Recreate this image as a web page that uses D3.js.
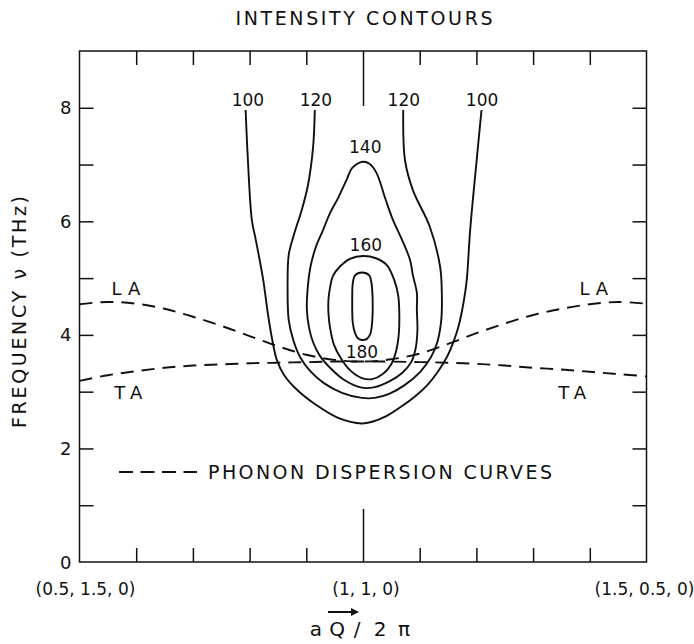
<!DOCTYPE html>
<html>
<head>
<meta charset="utf-8">
<script src="https://cdn.jsdelivr.net/npm/d3@7"></script>
<style>
  body { margin: 0; background: #fff; }
  svg text { font-family: "DejaVu Sans", "Liberation Sans", sans-serif; fill: #111; }
</style>
</head>
<body>
<svg id="chart" width="694" height="644"></svg>
<script>
// ---- axis definitions -------------------------------------------------
// wave vector runs (h, 2-h, 0) from h = 0.5 to h = 1.5
const qTicks = [0.5, 0.6, 0.7, 0.8, 0.9, 1.0, 1.1, 1.2, 1.3, 1.4, 1.5];
const qTickLabels = ["(0.5, 1.5, 0)", "(1, 1, 0)", "(1.5, 0.5, 0)"];
const qLabelAt = [0.5, 1.0, 1.5];
const nuTicks = [1, 2, 3, 4, 5, 6, 7, 8];
const nuTickLabels = [0, 2, 4, 6, 8];

// ---- phonon dispersion curves (THz) -----------------------------------
const dispQ  = [0.50, 0.55, 0.60, 0.65, 0.70, 0.75, 0.80, 0.85, 0.90, 0.95, 1.00,
                1.05, 1.10, 1.15, 1.20, 1.25, 1.30, 1.35, 1.40, 1.45, 1.50];
const laFreq = [4.54, 4.58, 4.55, 4.46, 4.32, 4.16, 3.98, 3.80, 3.65, 3.56, 3.53,
                3.57, 3.67, 3.84, 4.03, 4.20, 4.35, 4.46, 4.54, 4.58, 4.55];
const taFreq = [3.19, 3.29, 3.36, 3.42, 3.46, 3.48, 3.50, 3.51, 3.52, 3.53, 3.53,
                3.53, 3.52, 3.51, 3.49, 3.46, 3.42, 3.39, 3.35, 3.31, 3.27];

// ---- intensity contours: [h, frequency] ------------------------------
const contour100 = [[0.793,7.96],[0.797,7.08],[0.804,6.02],[0.811,5.67],[0.824,4.97],[0.832,4.39],
  [0.840,3.91],[0.848,3.56],[0.861,3.29],[0.884,3.03],[0.917,2.77],[0.956,2.54],[0.998,2.44],
  [1.016,2.47],[1.041,2.57],[1.065,2.72],[1.090,2.90],[1.113,3.11],[1.132,3.35],[1.148,3.61],
  [1.160,3.89],[1.169,4.17],[1.178,4.61],[1.183,4.97],[1.189,5.85],[1.200,7.03],[1.209,7.96]];
const contour120 = [[0.915,7.96],[0.912,7.31],[0.903,6.64],[0.892,6.20],[0.878,5.76],[0.869,5.41],
  [0.867,4.88],[0.869,4.26],[0.877,3.91],[0.889,3.61],[0.907,3.36],[0.931,3.15],[0.963,2.98],
  [0.998,2.89],[1.021,2.89],[1.046,2.96],[1.074,3.12],[1.101,3.35],[1.120,3.61],[1.131,3.87],
  [1.138,4.26],[1.139,4.74],[1.136,5.20],[1.118,5.90],[1.088,6.55],[1.074,7.08],[1.071,7.96]];
const contour140 = [[1.000,7.05],[0.981,6.94],[0.971,6.73],[0.956,6.41],[0.942,6.15],[0.928,5.81],
  [0.918,5.58],[0.908,5.23],[0.903,4.88],[0.901,4.44],[0.905,4.12],[0.912,3.87],[0.924,3.63],
  [0.942,3.42],[0.965,3.22],[0.998,3.07],[1.021,3.08],[1.048,3.19],[1.069,3.33],[1.085,3.52],
  [1.093,3.77],[1.096,4.09],[1.095,4.44],[1.095,4.74],[1.088,5.05],[1.083,5.32],[1.069,5.67],
  [1.053,6.02],[1.039,6.41],[1.024,6.85],[1.012,7.01]];
const contour160 = [[1.000,5.39],[0.977,5.34],[0.959,5.20],[0.947,5.04],[0.942,4.84],[0.939,4.61],
  [0.939,4.39],[0.942,4.12],[0.949,3.82],[0.961,3.59],[0.977,3.38],[0.998,3.24],[1.016,3.22],
  [1.035,3.31],[1.049,3.47],[1.058,3.70],[1.063,4.00],[1.064,4.39],[1.062,4.70],[1.055,4.97],
  [1.042,5.23],[1.023,5.35]];
const contour180 = [[0.998,5.10],[0.986,5.05],[0.982,4.91],[0.981,4.61],[0.982,4.21],[0.986,4.03],
  [0.991,3.94],[0.998,3.91],[1.007,3.93],[1.013,4.02],[1.016,4.21],[1.017,4.61],[1.015,4.91],
  [1.011,5.05]];

// contour level labels: [text, h, frequency]
const levelLabels = [["100",0.797,8.14],["120",0.917,8.14],["120",1.072,8.14],["100",1.210,8.14],
                     ["140",1.004,7.31],["160",1.005,5.58],["180",0.998,3.70]];
// branch labels: [text, h, frequency]
const branchLabels = [["LA",0.582,4.81],["LA",1.407,4.81],["TA",0.586,2.98],["TA",1.369,2.98]];

// ---- drawing ---------------------------------------------------------
const svg = d3.select("#chart");
const plotL = 79.5, plotR = 646.5, plotT = 51, plotB = 562;
const x = d3.scaleLinear().domain([0.5, 1.5]).range([plotL, plotR]);
const y = d3.scaleLinear().domain([0, 9]).range([plotB, plotT]);
const ink = "#111";
const tickLen = 14;

// frame
svg.append("rect")
  .attr("x", plotL).attr("y", plotT)
  .attr("width", plotR - plotL).attr("height", plotB - plotT)
  .attr("fill", "none").attr("stroke", ink).attr("stroke-width", 1.5);

// inward ticks on all four sides; the (1,1,0) marks run longer
const gB = svg.append("g").attr("transform", `translate(0,${plotB})`)
  .call(d3.axisBottom(x).tickValues(qTicks.slice(1, -1)).tickSizeOuter(0).tickFormat(""));
gB.selectAll(".tick line").attr("y2", d => -(d === 1.0 ? 53 : tickLen));
const gT = svg.append("g").attr("transform", `translate(0,${plotT})`)
  .call(d3.axisTop(x).tickValues(qTicks.slice(1, -1)).tickSizeOuter(0).tickFormat(""));
gT.selectAll(".tick line").attr("y2", d => (d === 1.0 ? 55 : tickLen));
const gL = svg.append("g").attr("transform", `translate(${plotL},0)`)
  .call(d3.axisLeft(y).tickValues(nuTicks).tickSizeOuter(0).tickFormat(""));
gL.selectAll(".tick line").attr("x2", tickLen);
const gR = svg.append("g").attr("transform", `translate(${plotR},0)`)
  .call(d3.axisRight(y).tickValues(nuTicks).tickSizeOuter(0).tickFormat(""));
gR.selectAll(".tick line").attr("x2", -tickLen);
[gB, gT, gL, gR].forEach(g => {
  g.select(".domain").remove();
  g.selectAll(".tick line").attr("stroke", ink).attr("stroke-width", 1.5);
});

// tick labels
svg.append("g").selectAll("text").data(nuTickLabels).join("text")
  .attr("x", plotL - 8).attr("y", d => y(d))
  .attr("text-anchor", "end").attr("dominant-baseline", "central")
  .attr("font-size", 18).text(d => d);
svg.append("g").selectAll("text").data(qLabelAt).join("text")
  .attr("x", d => x(d) + (d === 0.5 ? 6 : d === 1.5 ? -2 : 3)).attr("y", 589)
  .attr("text-anchor", "middle").attr("dominant-baseline", "central")
  .attr("font-size", 17)
  .text((d, i) => qTickLabels[i]);

// title
svg.append("text").attr("x", 364).attr("y", 18)
  .attr("text-anchor", "middle").attr("dominant-baseline", "central")
  .attr("font-size", 19).attr("textLength", 257).attr("lengthAdjust", "spacing")
  .text("INTENSITY CONTOURS");

// y-axis title
svg.append("text")
  .attr("transform", "translate(19,312) rotate(-90)")
  .attr("text-anchor", "middle").attr("dominant-baseline", "central")
  .attr("font-size", 19).attr("textLength", 232).attr("lengthAdjust", "spacing")
  .text("FREQUENCY \u03BD (THz)");

// x-axis title: a Q(arrow) / 2 pi
const xt = svg.append("g").attr("font-size", 20);
[["a", 316], ["Q", 337], ["/", 357], ["2", 380], ["\u03C0", 404]].forEach(([s, px]) => {
  xt.append("text").attr("x", px).attr("y", 629)
    .attr("text-anchor", "middle").attr("dominant-baseline", "central").text(s);
});
svg.append("line").attr("x1", 328).attr("x2", 352).attr("y1", 612).attr("y2", 612)
  .attr("stroke", ink).attr("stroke-width", 2);
svg.append("path").attr("d", "M351,608 L359,612 L351,616 Z").attr("fill", ink);

// dispersion curves
const dispLine = d3.line().x(d => x(d[0])).y(d => y(d[1])).curve(d3.curveCatmullRom);
[laFreq, taFreq].forEach(f => {
  svg.append("path")
    .attr("d", dispLine(dispQ.map((q, i) => [q, f[i]])))
    .attr("fill", "none").attr("stroke", ink).attr("stroke-width", 1.9)
    .attr("stroke-dasharray", "13,8");
});

// contours
const openLine = d3.line().x(d => x(d[0])).y(d => y(d[1])).curve(d3.curveCatmullRom);
const closedLine = d3.line().x(d => x(d[0])).y(d => y(d[1])).curve(d3.curveCatmullRomClosed);
[contour100, contour120].forEach(c => {
  svg.append("path").attr("d", openLine(c))
    .attr("fill", "none").attr("stroke", ink).attr("stroke-width", 1.9);
});
[contour140, contour160, contour180].forEach(c => {
  svg.append("path").attr("d", closedLine(c))
    .attr("fill", "none").attr("stroke", ink).attr("stroke-width", 1.9);
});

// level labels
svg.append("g").selectAll("text").data(levelLabels).join("text")
  .attr("x", d => x(d[1])).attr("y", d => y(d[2]))
  .attr("text-anchor", "middle").attr("dominant-baseline", "central")
  .attr("font-size", 17).text(d => d[0]);

// branch labels (spaced lettering)
svg.append("g").selectAll("text").data(branchLabels).join("text")
  .attr("x", d => x(d[1]) + 3).attr("y", d => y(d[2]))
  .attr("text-anchor", "middle").attr("dominant-baseline", "central")
  .attr("font-size", 18).attr("letter-spacing", 6).text(d => d[0]);

// legend
svg.append("line").attr("x1", 119).attr("x2", 197).attr("y1", 472).attr("y2", 472)
  .attr("stroke", ink).attr("stroke-width", 1.9).attr("stroke-dasharray", "14,7.5");
svg.append("text").attr("x", 208).attr("y", 472)
  .attr("dominant-baseline", "central").attr("font-size", 19)
  .attr("textLength", 344).attr("lengthAdjust", "spacing")
  .text("PHONON DISPERSION CURVES");
</script>
</body>
</html>
